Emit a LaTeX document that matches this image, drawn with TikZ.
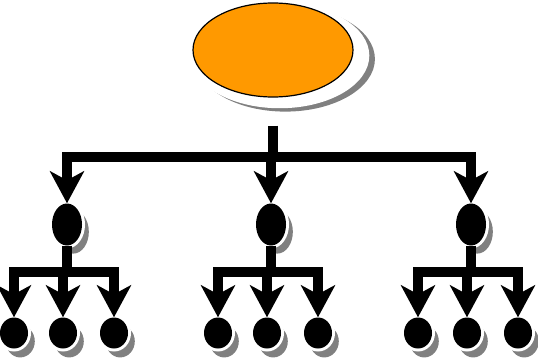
\documentclass[tikz,border=0pt]{standalone}
\usetikzlibrary{shapes, arrows.meta, shadows}
\definecolor{rootorange}{RGB}{255,153,0}
\tikzstyle{root} = [ellipse, draw=black, line width=1.2pt, fill=rootorange, inner sep=0pt, minimum width=160pt, minimum height=94pt,
  general shadow={fill=black!50, shadow scale=1.12, shadow xshift=11pt, shadow yshift=-8pt},
  general shadow={fill=white, shadow scale=1.12, shadow xshift=6pt, shadow yshift=-5pt}]
\tikzstyle{branch} = [ellipse, fill=black, inner sep=0pt, minimum width=30pt, minimum height=42pt,
  drop shadow={fill=black!50, opacity=1, shadow scale=1.04, shadow xshift=6pt, shadow yshift=-7pt},
  preaction={draw=white, line width=6pt}]
\tikzstyle{leaf} = [ellipse, fill=black, inner sep=0pt, minimum width=28pt, minimum height=31pt,
  drop shadow={fill=black!50, opacity=1, shadow scale=1.04, shadow xshift=6pt, shadow yshift=-8pt},
  preaction={draw=white, line width=6pt}]
\tikzstyle{trunk} = [line width=10pt]
\tikzstyle{tree} = [line width=10pt, -{Stealth[length=32pt, width=34pt, inset=9pt]}]

\begin{document}
\begin{tikzpicture}[x=1pt, y=1pt]
  \useasboundingbox (0,0) rectangle (538,-361);

  \node (top) [root] at (273,-50) {};
  \coordinate[below of=top, node distance=107pt] (split);
  \draw [trunk] ([yshift=-28pt]top.south) -- (split);

  \foreach \g/\cx in {1/67, 2/271, 3/471} {
    \node (b\g) [branch] at (\cx,-224.5) {};
    \node (l\g-1) [leaf] at (\cx-53,-333) {};
    \node (l\g-2) [leaf] at (\cx-4,-333) {};
    \node (l\g-3) [leaf] at (\cx+47,-333) {};
    \coordinate[below of=b\g, node distance=47.5pt] (s\g);

    \draw [tree] (split) -| (b\g);
    \draw [trunk] (b\g.south) -- (s\g);
    \draw [tree] (s\g) -| (l\g-1);
    \draw [tree] (s\g) -| (l\g-2);
    \draw [tree] (s\g) -| (l\g-3);
  }
\end{tikzpicture}
\end{document}
